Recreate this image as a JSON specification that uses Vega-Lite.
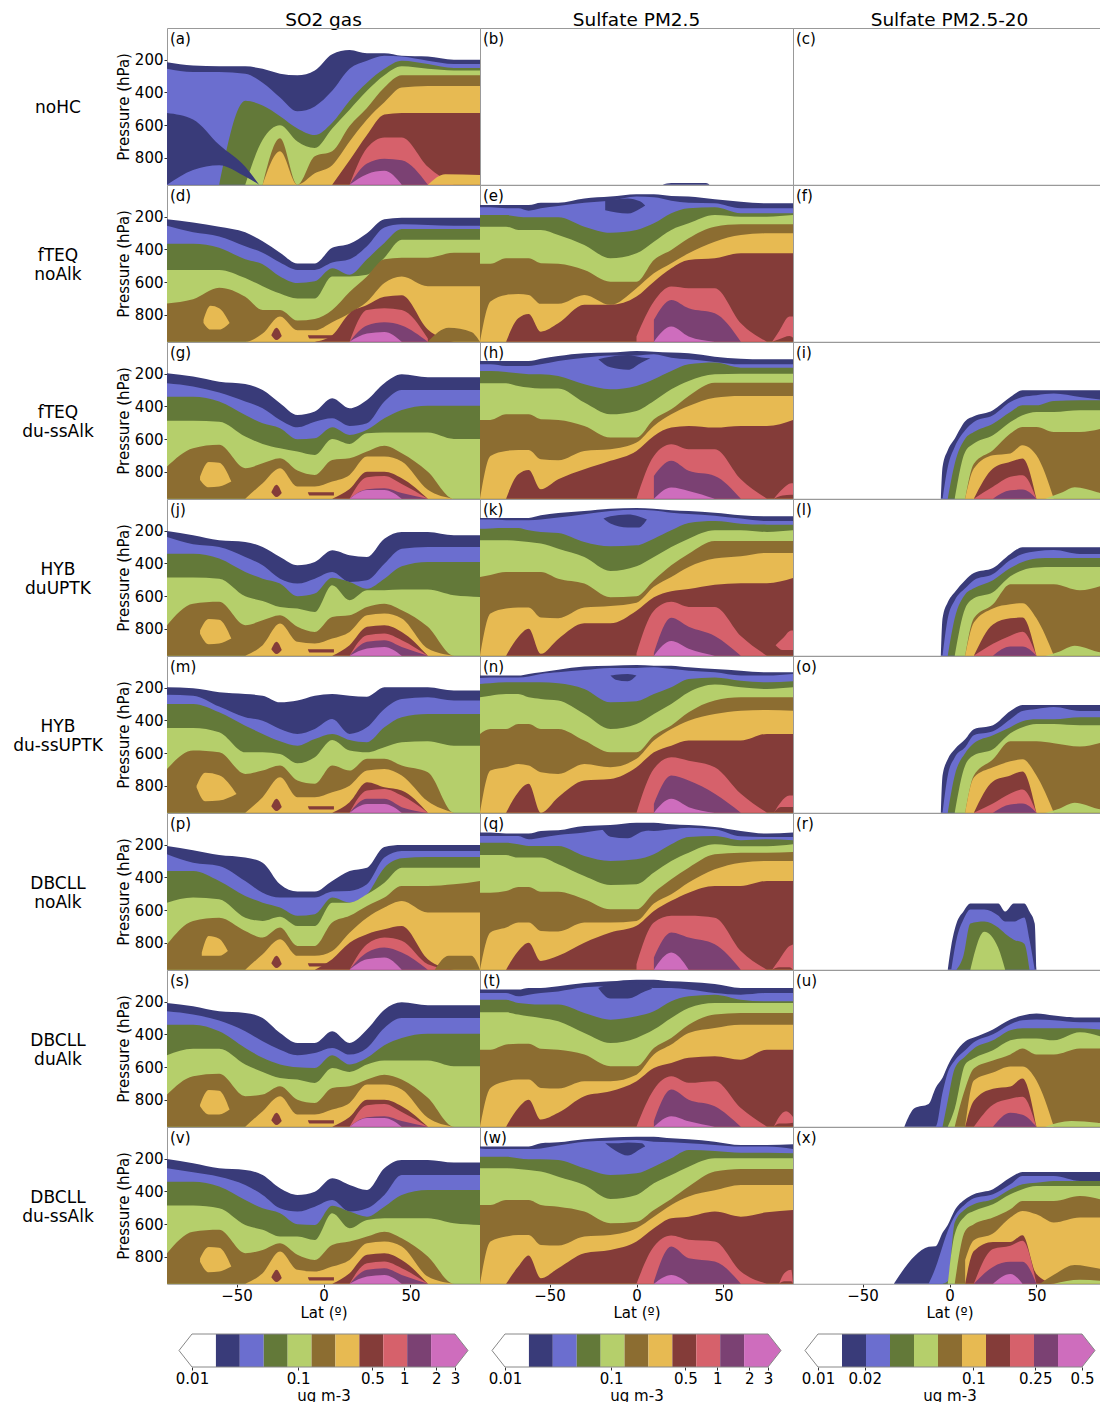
{"$schema":"https://vega.github.io/schema/vega-lite/v6.json","padding":{"left":12,"top":10,"right":0,"bottom":0},"background":"white","spacing":12,"config":{"font":"DejaVu Sans","area":{"interpolate":"monotone"},"axis":{"grid":false,"domain":false,"labelFontSize":15,"titleFontSize":15,"titleFontWeight":"normal","labelColor":"#000","titleColor":"#000","tickColor":"#333","tickSize":3,"labelPadding":1},"view":{"stroke":"#999"}},
"datasets":{"bins1":[{"lo":0.0168,"hi":0.0282,"c":"a"},{"lo":0.0282,"hi":0.0474,"c":"b"},{"lo":0.0474,"hi":0.0796,"c":"c"},{"lo":0.0796,"hi":0.1336,"c":"d"},{"lo":0.1336,"hi":0.2244,"c":"e"},{"lo":0.2244,"hi":0.3769,"c":"f"},{"lo":0.3769,"hi":0.6331,"c":"g"},{"lo":0.6331,"hi":1.063,"c":"h"},{"lo":1.063,"hi":1.786,"c":"i"},{"lo":1.786,"hi":3,"c":"j"}],
"tip1":[{"x":3,"y":0,"y2":1},{"x":3.976,"y":0.5,"y2":0.5}],
"edge1":[{"i":0,"x":0.007545,"y":0.5},{"i":1,"x":0.01,"y":1},{"i":2,"x":3,"y":1},{"i":3,"x":3.976,"y":0.5},{"i":4,"x":3,"y":0},{"i":5,"x":0.01,"y":0},{"i":6,"x":0.007545,"y":0.5}],
"bins3":[{"lo":0.01427,"hi":0.02037,"c":"a"},{"lo":0.02037,"hi":0.02907,"c":"b"},{"lo":0.02907,"hi":0.04148,"c":"c"},{"lo":0.04148,"hi":0.0592,"c":"d"},{"lo":0.0592,"hi":0.08448,"c":"e"},{"lo":0.08448,"hi":0.12056,"c":"f"},{"lo":0.12056,"hi":0.17205,"c":"g"},{"lo":0.17205,"hi":0.24553,"c":"h"},{"lo":0.24553,"hi":0.35039,"c":"i"},{"lo":0.35039,"hi":0.5,"c":"j"}],
"tip3":[{"x":0.5,"y":0,"y2":1},{"x":0.606,"y":0.5,"y2":0.5}],
"edge3":[{"i":0,"x":0.008248,"y":0.5},{"i":1,"x":0.01,"y":1},{"i":2,"x":0.5,"y":1},{"i":3,"x":0.606,"y":0.5},{"i":4,"x":0.5,"y":0},{"i":5,"x":0.01,"y":0},{"i":6,"x":0.008248,"y":0.5}]},
"vconcat":[{"data":{"values":[
{"p":"a","x":-90,"a":215,"b":255},{"p":"a","x":-75,"a":235,"b":275},{"p":"a","x":-60,"a":240,"b":275,"c":965},{"p":"a","x":-45,"a":240,"b":285,"c":450,"d":965},{"p":"a","x":-35,"a":255,"b":340,"c":480,"d":690,"e":965,"f":965},{"p":"a","x":-25,"a":285,"b":430,"c":545,"d":600,"e":680,"f":760},{"p":"a","x":-15,"a":295,"b":515,"c":620,"d":700,"e":965,"f":965},{"p":"a","x":-5,"a":265,"b":485,"c":660,"d":740,"e":790,"f":895},{"p":"a","x":5,"a":165,"b":390,"c":585,"d":620,"e":760,"f":845,"g":965},{"p":"a","x":15,"a":140,"b":255,"c":450,"d":505,"e":605,"f":700,"g":815,"h":965,"i":965,"j":965},{"p":"a","x":25,"a":160,"b":205,"c":340,"d":390,"e":495,"f":565,"g":660,"h":740,"i":835,"j":900},{"p":"a","x":35,"a":160,"b":175,"c":255,"d":295,"e":370,"f":460,"g":535,"h":675,"i":805,"j":880},{"p":"a","x":45,"a":175,"b":180,"c":205,"d":240,"e":295,"f":370,"g":525,"h":675,"i":815,"j":965},{"p":"a","x":60,"a":180,"b":205,"c":225,"d":255,"e":295,"f":360,"g":525,"h":855,"i":965},{"p":"a","x":75,"a":200,"b":225,"c":250,"d":265,"e":295,"f":360,"g":525,"h":965},{"p":"a","x":90,"a":200,"b":225,"c":250,"d":265,"e":295,"f":360,"g":525},
{"p":"a","x":-90,"k":"a","u":525,"v":965},{"p":"a","x":-75,"k":"a","u":565,"v":875},{"p":"a","x":-60,"k":"a","u":720,"v":845},{"p":"a","x":-45,"k":"a","u":855,"v":915},{"p":"a","x":-37,"k":"a","u":965,"v":965},{"p":"a","x":60,"k":"f","u":965,"v":965},{"p":"a","x":70,"k":"f","u":900,"v":965},{"p":"a","x":90,"k":"f","u":905,"v":965},
{"p":"b","x":-90},{"p":"b","x":15,"k":"a","u":965,"v":965},{"p":"b","x":20,"k":"a","u":955,"v":965},{"p":"b","x":40,"k":"a","u":955,"v":965},{"p":"b","x":42,"k":"a","u":965,"v":965},{"p":"c","x":-90},
{"p":"d","x":-90,"a":215,"b":255,"c":365,"d":525,"e":730},{"p":"d","x":-75,"a":235,"b":295,"c":365,"d":525,"e":705,"f":965},{"p":"d","x":-60,"a":260,"b":320,"c":390,"d":525,"e":635,"f":965},{"p":"d","x":-45,"a":295,"b":380,"c":460,"d":575,"e":690,"f":965},{"p":"d","x":-35,"a":350,"b":420,"c":490,"d":625,"e":770,"f":915},{"p":"d","x":-25,"a":420,"b":480,"c":565,"d":670,"e":770,"f":810},{"p":"d","x":-15,"a":485,"b":525,"c":605,"d":700,"e":835,"f":895},{"p":"d","x":-5,"a":485,"b":525,"c":595,"d":700,"e":825,"f":895,"g":965},{"p":"d","x":5,"a":390,"b":480,"c":515,"d":565,"e":770,"f":845,"g":925},{"p":"d","x":15,"a":365,"b":460,"c":555,"d":565,"e":660,"f":790,"g":790,"h":965,"i":965,"j":965},{"p":"d","x":25,"a":300,"b":380,"c":460,"d":555,"e":565,"f":720,"g":740,"h":770,"i":865,"j":915},{"p":"d","x":35,"a":215,"b":265,"c":360,"d":450,"e":460,"f":605,"g":690,"h":760,"i":845,"j":905},{"p":"d","x":45,"a":205,"b":245,"c":275,"d":340,"e":450,"f":565,"g":680,"h":770,"i":865,"j":965},{"p":"d","x":60,"a":205,"b":250,"c":275,"d":340,"e":450,"f":625,"g":890,"h":945,"i":965},{"p":"d","x":75,"a":205,"b":255,"c":275,"d":340,"e":420,"f":625,"g":965},{"p":"d","x":90,"a":205,"b":255,"c":275,"d":340,"e":420,"f":625},
{"p":"d","x":-69,"k":"f","u":830,"v":850},{"p":"d","x":-65,"k":"f","u":745,"v":890},{"p":"d","x":-60,"k":"f","u":760,"v":890},{"p":"d","x":-54,"k":"f","u":850,"v":850},{"p":"d","x":60,"k":"e","u":965,"v":965},{"p":"d","x":72,"k":"e","u":880,"v":965},{"p":"d","x":85,"k":"e","u":905,"v":965},{"p":"d","x":90,"k":"e","u":965,"v":965},{"p":"d","x":-30,"k":"g","u":925,"v":925},{"p":"d","x":-27,"k":"g","u":880,"v":955},{"p":"d","x":-24,"k":"g","u":930,"v":930},{"p":"d","x":-9,"k":"G","u":925,"v":925},{"p":"d","x":-8,"k":"G","u":925,"v":945},{"p":"d","x":6,"k":"G","u":925,"v":945},
{"p":"f","x":-90},
{"p":"g","x":-90,"a":197,"b":258,"c":340,"d":488,"e":768},{"p":"g","x":-75,"a":217,"b":278,"c":340,"d":488,"e":656},{"p":"g","x":-60,"a":248,"b":315,"c":370,"d":493,"e":635},{"p":"g","x":-45,"a":262,"b":370,"c":452,"d":584,"e":778,"f":965},{"p":"g","x":-35,"a":299,"b":411,"c":503,"d":629,"e":748,"f":870},{"p":"g","x":-25,"a":380,"b":482,"c":533,"d":656,"e":717,"f":778},{"p":"g","x":-15,"a":452,"b":527,"c":601,"d":676,"e":792,"f":890},{"p":"g","x":-5,"a":431,"b":493,"c":595,"d":697,"e":819,"f":890},{"p":"g","x":5,"a":350,"b":472,"c":527,"d":599,"e":727,"f":860,"g":965},{"p":"g","x":15,"a":411,"b":519,"c":574,"d":629,"e":717,"f":819,"g":905,"h":965,"i":965,"j":965},{"p":"g","x":25,"a":360,"b":503,"c":543,"d":564,"e":676,"f":707,"g":799,"h":833,"i":907,"j":911},{"p":"g","x":35,"a":258,"b":370,"c":472,"d":560,"e":641,"f":707,"g":799,"h":825,"i":901,"j":911},{"p":"g","x":45,"a":203,"b":299,"c":421,"d":560,"e":686,"f":737,"g":839,"h":874,"i":930,"j":965},{"p":"g","x":60,"a":221,"b":299,"c":395,"d":560,"e":799,"f":910,"g":965,"h":965,"i":965},{"p":"g","x":75,"a":221,"b":299,"c":395,"d":599,"e":965,"f":965},{"p":"g","x":90,"a":221,"b":299,"c":395,"d":599,"e":965},
{"p":"g","x":-71,"k":"f","u":830,"v":850},{"p":"g","x":-66,"k":"f","u":740,"v":895},{"p":"g","x":-60,"k":"f","u":745,"v":890},{"p":"g","x":-53,"k":"f","u":860,"v":860},{"p":"g","x":-30,"k":"g","u":925,"v":925},{"p":"g","x":-27,"k":"g","u":880,"v":955},{"p":"g","x":-24,"k":"g","u":930,"v":930},{"p":"g","x":-9,"k":"G","u":925,"v":925},{"p":"g","x":-8,"k":"G","u":925,"v":945},{"p":"g","x":6,"k":"G","u":925,"v":945},
{"p":"j","x":-90,"a":201,"b":238,"c":340,"d":486,"e":778},{"p":"j","x":-75,"a":227,"b":282,"c":340,"d":486,"e":646},{"p":"j","x":-60,"a":258,"b":299,"c":370,"d":493,"e":635},{"p":"j","x":-45,"a":268,"b":360,"c":452,"d":601,"e":778,"f":965},{"p":"j","x":-35,"a":299,"b":411,"c":493,"d":629,"e":748,"f":900},{"p":"j","x":-25,"a":360,"b":493,"c":523,"d":666,"e":717,"f":768},{"p":"j","x":-15,"a":411,"b":523,"c":601,"d":676,"e":788,"f":880},{"p":"j","x":-5,"a":391,"b":493,"c":584,"d":697,"e":819,"f":890},{"p":"j","x":5,"a":319,"b":452,"c":487,"d":533,"e":727,"f":860,"g":965},{"p":"j","x":15,"a":350,"b":513,"c":513,"d":625,"e":717,"f":819,"g":900,"h":965,"i":965,"j":965},{"p":"j","x":25,"a":360,"b":503,"c":554,"d":564,"e":666,"f":717,"g":788,"h":839,"i":880,"j":921},{"p":"j","x":35,"a":248,"b":401,"c":493,"d":564,"e":646,"f":707,"g":778,"h":829,"i":870,"j":911},{"p":"j","x":45,"a":207,"b":309,"c":417,"d":560,"e":686,"f":737,"g":819,"h":870,"i":911,"j":965},{"p":"j","x":60,"a":207,"b":299,"c":391,"d":560,"e":788,"f":921,"g":965,"h":965,"i":965},{"p":"j","x":75,"a":227,"b":299,"c":391,"d":595,"e":965,"f":965},{"p":"j","x":90,"a":227,"b":299,"c":391,"d":605,"e":965},
{"p":"j","x":-71,"k":"f","u":810,"v":830},{"p":"j","x":-66,"k":"f","u":740,"v":895},{"p":"j","x":-60,"k":"f","u":745,"v":890},{"p":"j","x":-53,"k":"f","u":860,"v":860},{"p":"j","x":-30,"k":"g","u":925,"v":925},{"p":"j","x":-27,"k":"g","u":880,"v":955},{"p":"j","x":-24,"k":"g","u":930,"v":930},{"p":"j","x":-9,"k":"G","u":925,"v":925},{"p":"j","x":-8,"k":"G","u":925,"v":945},{"p":"j","x":6,"k":"G","u":925,"v":945},
{"p":"m","x":-90,"a":197,"b":242,"c":299,"d":446,"e":697},{"p":"m","x":-75,"a":203,"b":248,"c":299,"d":446,"e":584},{"p":"m","x":-60,"a":227,"b":315,"c":350,"d":472,"e":595},{"p":"m","x":-45,"a":238,"b":380,"c":432,"d":595,"e":727,"f":965},{"p":"m","x":-35,"a":248,"b":401,"c":482,"d":595,"e":707,"f":870},{"p":"m","x":-25,"a":289,"b":452,"c":527,"d":605,"e":676,"f":748},{"p":"m","x":-15,"a":278,"b":482,"c":554,"d":662,"e":768,"f":870},{"p":"m","x":-5,"a":248,"b":452,"c":513,"d":625,"e":788,"f":870},{"p":"m","x":5,"a":238,"b":391,"c":482,"d":519,"e":676,"f":840,"g":965},{"p":"m","x":15,"a":248,"b":482,"c":519,"d":584,"e":707,"f":799,"g":900,"h":965,"i":965,"j":965},{"p":"m","x":25,"a":254,"b":442,"c":533,"d":595,"e":635,"f":707,"g":778,"h":829,"i":880,"j":911},{"p":"m","x":35,"a":197,"b":329,"c":442,"d":564,"e":635,"f":697,"g":809,"h":819,"i":880,"j":911},{"p":"m","x":45,"a":197,"b":268,"c":380,"d":533,"e":676,"f":737,"g":829,"h":860,"i":931,"j":965},{"p":"m","x":60,"a":197,"b":258,"c":360,"d":527,"e":717,"f":895,"g":965,"h":965,"i":965},{"p":"m","x":75,"a":217,"b":278,"c":360,"d":554,"e":965,"f":965},{"p":"m","x":90,"a":217,"b":278,"c":360,"d":554,"e":965},
{"p":"m","x":-73,"k":"f","u":800,"v":810},{"p":"m","x":-68,"k":"f","u":720,"v":895},{"p":"m","x":-60,"k":"f","u":735,"v":890},{"p":"m","x":-50,"k":"f","u":850,"v":850},{"p":"m","x":-30,"k":"g","u":925,"v":925},{"p":"m","x":-27,"k":"g","u":880,"v":955},{"p":"m","x":-24,"k":"g","u":930,"v":930},{"p":"m","x":-9,"k":"G","u":925,"v":925},{"p":"m","x":-8,"k":"G","u":925,"v":945},{"p":"m","x":6,"k":"G","u":925,"v":945},
{"p":"p","x":-90,"a":207,"b":258,"c":360,"d":554,"e":809},{"p":"p","x":-75,"a":233,"b":309,"c":360,"d":523,"e":666},{"p":"p","x":-60,"a":262,"b":329,"c":421,"d":533,"e":646},{"p":"p","x":-45,"a":278,"b":421,"c":513,"d":646,"e":727,"f":965},{"p":"p","x":-35,"a":309,"b":493,"c":554,"d":666,"e":768,"f":870},{"p":"p","x":-25,"a":442,"b":523,"c":584,"d":640,"e":707,"f":778},{"p":"p","x":-15,"a":486,"b":523,"c":635,"d":697,"e":819,"f":880},{"p":"p","x":-5,"a":486,"b":523,"c":625,"d":697,"e":819,"f":880,"g":965},{"p":"p","x":5,"a":421,"b":486,"c":523,"d":554,"e":676,"f":850,"g":900},{"p":"p","x":15,"a":360,"b":482,"c":554,"d":554,"e":635,"f":738,"g":800,"h":965,"i":965,"j":965},{"p":"p","x":25,"a":340,"b":442,"c":503,"d":503,"e":574,"f":646,"g":747,"h":809,"i":860,"j":900},{"p":"p","x":35,"a":213,"b":278,"c":340,"d":432,"e":523,"f":584,"g":717,"h":768,"i":829,"j":890},{"p":"p","x":45,"a":201,"b":238,"c":282,"d":340,"e":452,"f":544,"g":697,"h":788,"i":860,"j":965},{"p":"p","x":60,"a":201,"b":238,"c":274,"d":340,"e":452,"f":615,"g":900,"h":931,"i":965},{"p":"p","x":75,"a":201,"b":238,"c":274,"d":340,"e":442,"f":615,"g":965,"h":965},{"p":"p","x":90,"a":201,"b":238,"c":274,"d":340,"e":421,"f":615},
{"p":"p","x":-70,"k":"f","u":860,"v":880},{"p":"p","x":-66,"k":"f","u":758,"v":880},{"p":"p","x":-60,"k":"f","u":775,"v":880},{"p":"p","x":-55,"k":"f","u":850,"v":850},{"p":"p","x":64,"k":"e","u":965,"v":965},{"p":"p","x":72,"k":"e","u":880,"v":965},{"p":"p","x":85,"k":"e","u":880,"v":965},{"p":"p","x":90,"k":"e","u":965,"v":965},{"p":"p","x":-30,"k":"g","u":925,"v":925},{"p":"p","x":-27,"k":"g","u":880,"v":955},{"p":"p","x":-24,"k":"g","u":930,"v":930},{"p":"p","x":-9,"k":"G","u":925,"v":925},{"p":"p","x":-8,"k":"G","u":925,"v":945},{"p":"p","x":6,"k":"G","u":925,"v":945},
{"p":"s","x":-90,"a":207,"b":258,"c":340,"d":527,"e":768},{"p":"s","x":-75,"a":227,"b":278,"c":340,"d":488,"e":656},{"p":"s","x":-60,"a":258,"b":315,"c":380,"d":488,"e":641},{"p":"s","x":-45,"a":268,"b":380,"c":482,"d":584,"e":778,"f":965},{"p":"s","x":-35,"a":299,"b":442,"c":543,"d":629,"e":768,"f":870},{"p":"s","x":-25,"a":391,"b":493,"c":584,"d":666,"e":717,"f":778},{"p":"s","x":-15,"a":452,"b":527,"c":601,"d":676,"e":799,"f":890},{"p":"s","x":-5,"a":452,"b":513,"c":605,"d":697,"e":819,"f":890},{"p":"s","x":5,"a":380,"b":482,"c":527,"d":605,"e":727,"f":860,"g":965},{"p":"s","x":15,"a":452,"b":523,"c":584,"d":629,"e":717,"f":819,"g":905,"h":965,"i":965,"j":965},{"p":"s","x":25,"a":370,"b":482,"c":543,"d":584,"e":676,"f":707,"g":799,"h":833,"i":907,"j":911},{"p":"s","x":35,"a":248,"b":360,"c":466,"d":560,"e":646,"f":707,"g":799,"h":825,"i":901,"j":911},{"p":"s","x":45,"a":203,"b":299,"c":421,"d":560,"e":676,"f":737,"g":839,"h":874,"i":930,"j":965},{"p":"s","x":60,"a":221,"b":299,"c":395,"d":560,"e":788,"f":910,"g":965,"h":965,"i":965},{"p":"s","x":75,"a":221,"b":299,"c":395,"d":595,"e":965,"f":965},{"p":"s","x":90,"a":221,"b":299,"c":395,"d":595,"e":965},
{"p":"s","x":-71,"k":"f","u":830,"v":840},{"p":"s","x":-66,"k":"f","u":740,"v":890},{"p":"s","x":-60,"k":"f","u":745,"v":890},{"p":"s","x":-54,"k":"f","u":860,"v":860},{"p":"s","x":-30,"k":"g","u":925,"v":925},{"p":"s","x":-27,"k":"g","u":880,"v":955},{"p":"s","x":-24,"k":"g","u":930,"v":930},{"p":"s","x":-9,"k":"G","u":925,"v":925},{"p":"s","x":-8,"k":"G","u":925,"v":945},{"p":"s","x":6,"k":"G","u":925,"v":945},
{"p":"v","x":-90,"a":201,"b":258,"c":340,"d":486,"e":778},{"p":"v","x":-75,"a":227,"b":282,"c":340,"d":486,"e":646},{"p":"v","x":-60,"a":258,"b":309,"c":370,"d":503,"e":635},{"p":"v","x":-45,"a":268,"b":360,"c":452,"d":605,"e":778,"f":965},{"p":"v","x":-35,"a":299,"b":421,"c":503,"d":635,"e":758,"f":900},{"p":"v","x":-25,"a":380,"b":503,"c":533,"d":676,"e":717,"f":768},{"p":"v","x":-15,"a":421,"b":523,"c":601,"d":676,"e":788,"f":880},{"p":"v","x":-5,"a":401,"b":493,"c":605,"d":697,"e":819,"f":890},{"p":"v","x":5,"a":319,"b":452,"c":487,"d":533,"e":727,"f":860,"g":965},{"p":"v","x":15,"a":360,"b":523,"c":523,"d":625,"e":707,"f":819,"g":900,"h":965,"i":965,"j":965},{"p":"v","x":25,"a":391,"b":503,"c":554,"d":574,"e":676,"f":717,"g":788,"h":839,"i":880,"j":921},{"p":"v","x":35,"a":258,"b":421,"c":493,"d":564,"e":646,"f":707,"g":778,"h":829,"i":870,"j":911},{"p":"v","x":45,"a":207,"b":299,"c":421,"d":564,"e":686,"f":737,"g":819,"h":870,"i":911,"j":965},{"p":"v","x":60,"a":207,"b":299,"c":391,"d":564,"e":798,"f":921,"g":965,"h":965,"i":965},{"p":"v","x":75,"a":223,"b":299,"c":391,"d":595,"e":965,"f":965},{"p":"v","x":90,"a":223,"b":299,"c":391,"d":605,"e":965},
{"p":"v","x":-71,"k":"f","u":810,"v":830},{"p":"v","x":-66,"k":"f","u":740,"v":895},{"p":"v","x":-60,"k":"f","u":745,"v":890},{"p":"v","x":-53,"k":"f","u":860,"v":860},{"p":"v","x":-30,"k":"g","u":925,"v":925},{"p":"v","x":-27,"k":"g","u":880,"v":955},{"p":"v","x":-24,"k":"g","u":930,"v":930},{"p":"v","x":-9,"k":"G","u":925,"v":925},{"p":"v","x":-8,"k":"G","u":925,"v":945},{"p":"v","x":6,"k":"G","u":925,"v":945},
{"p":"e","x":-90,"a":127,"b":142,"c":189,"d":260,"e":488,"f":965},{"p":"e","x":-84,"a":127,"b":142,"c":189,"d":260,"e":488,"f":719},{"p":"e","x":-75,"a":127,"b":148,"c":189,"d":260,"e":454,"f":678,"g":965},{"p":"e","x":-68,"a":127,"b":148,"c":199,"d":280,"e":454,"f":672,"g":821},{"p":"e","x":-62,"a":127,"b":162,"c":203,"d":280,"e":454,"f":678,"g":795},{"p":"e","x":-55,"a":113,"b":148,"c":203,"d":280,"e":484,"f":733,"g":903},{"p":"e","x":-45,"a":113,"b":134,"c":203,"d":311,"e":488,"f":733,"g":852},{"p":"e","x":-30,"a":87,"b":113,"c":260,"d":372,"e":525,"f":678,"g":739},{"p":"e","x":-15,"a":76,"b":101,"c":297,"d":454,"e":597,"f":739,"g":739},{"p":"e","x":0,"a":62,"b":76,"c":280,"d":423,"e":597,"f":637,"g":688,"h":933},{"p":"e","x":10,"a":62,"b":80,"c":240,"d":352,"e":464,"f":546,"g":597,"h":719,"i":831,"j":965},{"p":"e","x":20,"a":72,"b":101,"c":178,"d":280,"e":403,"f":484,"g":515,"h":627,"i":709,"j":872},{"p":"e","x":30,"a":76,"b":113,"c":148,"d":240,"e":331,"f":423,"g":464,"h":637,"i":760,"j":933},{"p":"e","x":45,"a":93,"b":117,"c":142,"d":189,"e":260,"f":352,"g":454,"h":637,"i":790,"j":965},{"p":"e","x":60,"a":107,"b":148,"c":178,"d":199,"e":246,"f":311,"g":423,"h":852,"i":965},{"p":"e","x":75,"a":117,"b":148,"c":178,"d":199,"e":246,"f":301,"g":423,"h":965},{"p":"e","x":90,"a":117,"b":148,"c":178,"d":189,"e":246,"f":301,"g":423},
{"p":"e","x":-18,"k":"a","u":100,"v":160},{"p":"e","x":-5,"k":"a","u":87,"v":180},{"p":"e","x":2,"k":"a","u":105,"v":150},{"p":"e","x":5,"k":"a","u":130,"v":130},{"p":"e","x":78,"k":"h","u":965,"v":965},{"p":"e","x":82,"k":"h","u":900,"v":950},{"p":"e","x":88,"k":"h","u":810,"v":930},{"p":"e","x":90,"k":"h","u":810,"v":940},
{"p":"h","x":-90,"a":121,"b":142,"c":183,"d":258,"e":482,"f":965},{"p":"h","x":-84,"a":121,"b":142,"c":183,"d":258,"e":482,"f":703},{"p":"h","x":-75,"a":121,"b":152,"c":189,"d":258,"e":448,"f":672,"g":965},{"p":"h","x":-68,"a":121,"b":152,"c":197,"d":274,"e":448,"f":666,"g":815},{"p":"h","x":-62,"a":121,"b":152,"c":203,"d":284,"e":448,"f":666,"g":789},{"p":"h","x":-55,"a":107,"b":142,"c":203,"d":290,"e":478,"f":723,"g":907},{"p":"h","x":-45,"a":91,"b":121,"c":213,"d":290,"e":482,"f":729,"g":846},{"p":"h","x":-30,"a":74,"b":101,"c":264,"d":376,"e":519,"f":672,"g":784},{"p":"h","x":-15,"a":70,"b":87,"c":295,"d":448,"e":590,"f":662,"g":733},{"p":"h","x":0,"a":60,"b":87,"c":274,"d":427,"e":590,"f":621,"g":672,"h":965},{"p":"h","x":10,"a":64,"b":80,"c":233,"d":366,"e":478,"f":519,"g":580,"h":703,"i":825,"j":965},{"p":"h","x":20,"a":70,"b":101,"c":183,"d":295,"e":417,"f":448,"g":529,"h":631,"i":733,"j":896},{"p":"h","x":30,"a":74,"b":111,"c":142,"d":244,"e":335,"f":397,"g":519,"h":662,"i":794,"j":917},{"p":"h","x":45,"a":95,"b":127,"c":131,"d":203,"e":254,"f":346,"g":529,"h":662,"i":825,"j":965},{"p":"h","x":60,"a":107,"b":142,"c":162,"d":199,"e":254,"f":335,"g":519,"h":846,"i":965},{"p":"h","x":75,"a":111,"b":142,"c":162,"d":199,"e":254,"f":335,"g":519,"h":965},{"p":"h","x":90,"a":111,"b":142,"c":162,"d":199,"e":254,"f":335,"g":482},
{"p":"h","x":-22,"k":"a","u":110,"v":110},{"p":"h","x":-15,"k":"a","u":95,"v":160},{"p":"h","x":-5,"k":"a","u":85,"v":175},{"p":"h","x":3,"k":"a","u":100,"v":130},{"p":"h","x":8,"k":"a","u":105,"v":105},{"p":"h","x":79,"k":"h","u":965,"v":965},{"p":"h","x":84,"k":"h","u":905,"v":945},{"p":"h","x":89,"k":"h","u":870,"v":940},{"p":"h","x":90,"k":"h","u":870,"v":940},
{"p":"k","x":-90,"a":121,"b":131,"c":187,"d":258,"e":482,"f":965},{"p":"k","x":-84,"a":121,"b":131,"c":185,"d":258,"e":470,"f":707},{"p":"k","x":-75,"a":121,"b":135,"c":183,"d":258,"e":452,"f":676,"g":965},{"p":"k","x":-68,"a":121,"b":135,"c":183,"d":262,"e":452,"f":670,"g":850},{"p":"k","x":-62,"a":121,"b":135,"c":197,"d":268,"e":452,"f":670,"g":799},{"p":"k","x":-55,"a":105,"b":131,"c":207,"d":278,"e":452,"f":731,"g":953},{"p":"k","x":-45,"a":91,"b":119,"c":213,"d":309,"e":493,"f":735,"g":862},{"p":"k","x":-30,"a":79,"b":99,"c":268,"d":360,"e":523,"f":670,"g":766},{"p":"k","x":-15,"a":64,"b":79,"c":295,"d":446,"e":607,"f":660,"g":766},{"p":"k","x":0,"a":60,"b":71,"c":289,"d":417,"e":601,"f":640,"g":689,"h":950},{"p":"k","x":10,"a":64,"b":75,"c":248,"d":360,"e":503,"f":543,"g":607,"h":689,"i":950,"j":965},{"p":"k","x":20,"a":74,"b":89,"c":197,"d":299,"e":411,"f":482,"g":570,"h":635,"i":733,"j":875},{"p":"k","x":30,"a":79,"b":97,"c":152,"d":248,"e":340,"f":421,"g":556,"h":666,"i":788,"j":922},{"p":"k","x":45,"a":89,"b":107,"c":140,"d":197,"e":262,"f":370,"g":530,"h":666,"i":844,"j":965},{"p":"k","x":60,"a":105,"b":125,"c":156,"d":197,"e":262,"f":356,"g":521,"h":844,"i":965},{"p":"k","x":75,"a":111,"b":140,"c":162,"d":207,"e":262,"f":335,"g":521,"h":965},{"p":"k","x":90,"a":111,"b":140,"c":162,"d":197,"e":262,"f":335,"g":489},
{"p":"k","x":-19,"k":"a","u":125,"v":125},{"p":"k","x":-15,"k":"a","u":110,"v":155},{"p":"k","x":-5,"k":"a","u":100,"v":180},{"p":"k","x":1,"k":"a","u":110,"v":180},{"p":"k","x":6,"k":"a","u":130,"v":130},{"p":"k","x":80,"k":"h","u":900,"v":900},{"p":"k","x":84,"k":"h","u":860,"v":930},{"p":"k","x":89,"k":"h","u":810,"v":930},{"p":"k","x":90,"k":"h","u":810,"v":930},
{"p":"n","x":-90,"a":125,"b":140,"c":176,"d":258,"e":482,"f":965},{"p":"n","x":-84,"a":125,"b":136,"c":172,"d":248,"e":452,"f":707},{"p":"n","x":-75,"a":125,"b":136,"c":166,"d":238,"e":452,"f":686,"g":965},{"p":"n","x":-68,"a":125,"b":136,"c":166,"d":238,"e":421,"f":666,"g":839},{"p":"n","x":-62,"a":115,"b":130,"c":166,"d":258,"e":421,"f":676,"g":788},{"p":"n","x":-55,"a":105,"b":115,"c":166,"d":268,"e":452,"f":717,"g":965},{"p":"n","x":-45,"a":89,"b":105,"c":172,"d":278,"e":452,"f":727,"g":870},{"p":"n","x":-30,"a":70,"b":91,"c":207,"d":360,"e":523,"f":666,"g":768},{"p":"n","x":-15,"a":64,"b":78,"c":289,"d":452,"e":595,"f":686,"g":758},{"p":"n","x":0,"a":60,"b":78,"c":282,"d":421,"e":595,"f":635,"g":686,"h":965},{"p":"n","x":10,"a":64,"b":74,"c":238,"d":360,"e":493,"f":523,"g":595,"h":696,"i":911,"j":965},{"p":"n","x":20,"a":64,"b":85,"c":197,"d":299,"e":431,"f":452,"g":554,"h":625,"i":737,"j":880},{"p":"n","x":30,"a":74,"b":95,"c":146,"d":227,"e":350,"f":401,"g":523,"h":646,"i":768,"j":931},{"p":"n","x":45,"a":85,"b":105,"c":136,"d":180,"e":278,"f":360,"g":523,"h":686,"i":849,"j":965},{"p":"n","x":60,"a":95,"b":125,"c":156,"d":197,"e":258,"f":340,"g":523,"h":849,"i":965},{"p":"n","x":75,"a":105,"b":125,"c":166,"d":207,"e":258,"f":335,"g":482,"h":965},{"p":"n","x":90,"a":105,"b":115,"c":160,"d":197,"e":258,"f":340,"g":482},
{"p":"n","x":-15,"k":"a","u":125,"v":125},{"p":"n","x":-12,"k":"a","u":120,"v":150},{"p":"n","x":-5,"k":"a","u":115,"v":160},{"p":"n","x":0,"k":"a","u":125,"v":125},{"p":"n","x":79,"k":"h","u":965,"v":965},{"p":"n","x":83,"k":"h","u":900,"v":930},{"p":"n","x":88,"k":"h","u":860,"v":930},{"p":"n","x":90,"k":"h","u":860,"v":930},
{"p":"q","x":-90,"a":125,"b":146,"c":187,"d":262,"e":493,"f":965},{"p":"q","x":-84,"a":125,"b":146,"c":187,"d":262,"e":493,"f":737},{"p":"q","x":-75,"a":131,"b":146,"c":187,"d":262,"e":483,"f":707,"g":965},{"p":"q","x":-68,"a":131,"b":146,"c":197,"d":278,"e":458,"f":676,"g":850},{"p":"q","x":-62,"a":131,"b":166,"c":207,"d":278,"e":458,"f":676,"g":799},{"p":"q","x":-55,"a":115,"b":156,"c":207,"d":278,"e":487,"f":727,"g":911},{"p":"q","x":-45,"a":111,"b":140,"c":207,"d":319,"e":488,"f":731,"g":880},{"p":"q","x":-30,"a":85,"b":125,"c":268,"d":391,"e":533,"f":676,"g":799},{"p":"q","x":-15,"a":79,"b":105,"c":299,"d":446,"e":595,"f":676,"g":737},{"p":"q","x":0,"a":64,"b":105,"c":289,"d":442,"e":595,"f":666,"g":696,"h":931},{"p":"q","x":10,"a":64,"b":115,"c":258,"d":370,"e":493,"f":560,"g":605,"h":676,"i":890,"j":965},{"p":"q","x":20,"a":74,"b":105,"c":197,"d":299,"e":411,"f":503,"g":543,"h":635,"i":737,"j":860},{"p":"q","x":30,"a":79,"b":95,"c":152,"d":248,"e":340,"f":431,"g":493,"h":635,"i":768,"j":965},{"p":"q","x":45,"a":91,"b":105,"c":146,"d":197,"e":258,"f":350,"g":452,"h":646,"i":809},{"p":"q","x":60,"a":115,"b":148,"c":172,"d":209,"e":248,"f":309,"g":452,"h":850,"i":965},{"p":"q","x":75,"a":131,"b":152,"c":166,"d":209,"e":248,"f":299,"g":421,"h":965},{"p":"q","x":90,"a":125,"b":152,"c":172,"d":197,"e":244,"f":299,"g":421},
{"p":"q","x":-20,"k":"a","u":100,"v":100},{"p":"q","x":-15,"k":"a","u":95,"v":150},{"p":"q","x":-5,"k":"a","u":85,"v":160},{"p":"q","x":3,"k":"a","u":90,"v":120},{"p":"q","x":7,"k":"a","u":110,"v":110},{"p":"q","x":78,"k":"h","u":965,"v":965},{"p":"q","x":82,"k":"h","u":905,"v":950},{"p":"q","x":88,"k":"h","u":820,"v":950},{"p":"q","x":90,"k":"h","u":810,"v":965},
{"p":"t","x":-90,"a":125,"b":146,"c":187,"d":264,"e":493,"f":965},{"p":"t","x":-84,"a":125,"b":146,"c":187,"d":264,"e":493,"f":727},{"p":"t","x":-75,"a":125,"b":146,"c":187,"d":264,"e":462,"f":686,"g":965},{"p":"t","x":-68,"a":125,"b":166,"c":207,"d":278,"e":456,"f":676,"g":850},{"p":"t","x":-62,"a":115,"b":156,"c":213,"d":289,"e":456,"f":676,"g":799},{"p":"t","x":-55,"a":115,"b":146,"c":217,"d":299,"e":487,"f":727,"g":921},{"p":"t","x":-45,"a":105,"b":136,"c":217,"d":319,"e":493,"f":731,"g":880},{"p":"t","x":-30,"a":85,"b":111,"c":268,"d":391,"e":523,"f":686,"g":778},{"p":"t","x":-15,"a":74,"b":105,"c":309,"d":452,"e":595,"f":686,"g":748},{"p":"t","x":0,"a":64,"b":105,"c":289,"d":421,"e":595,"f":646,"g":686,"h":965},{"p":"t","x":10,"a":64,"b":115,"c":258,"d":370,"e":482,"f":523,"g":605,"h":737,"i":931,"j":965},{"p":"t","x":20,"a":74,"b":115,"c":197,"d":299,"e":421,"f":462,"g":574,"h":656,"i":737,"j":900},{"p":"t","x":30,"a":78,"b":125,"c":166,"d":238,"e":340,"f":391,"g":543,"h":696,"i":799,"j":931},{"p":"t","x":45,"a":91,"b":146,"c":156,"d":207,"e":278,"f":360,"g":533,"h":686,"i":839,"j":965},{"p":"t","x":60,"a":115,"b":156,"c":187,"d":207,"e":268,"f":340,"g":554,"h":850,"i":965},{"p":"t","x":75,"a":115,"b":146,"c":197,"d":207,"e":268,"f":340,"g":493,"h":965},{"p":"t","x":90,"a":115,"b":146,"c":197,"d":207,"e":268,"f":340,"g":493},
{"p":"t","x":-22,"k":"a","u":115,"v":115},{"p":"t","x":-15,"k":"a","u":90,"v":180},{"p":"t","x":-5,"k":"a","u":80,"v":180},{"p":"t","x":5,"k":"a","u":95,"v":135},{"p":"t","x":9,"k":"a","u":120,"v":120},{"p":"t","x":79,"k":"h","u":965,"v":965},{"p":"t","x":82,"k":"h","u":905,"v":945},{"p":"t","x":86,"k":"h","u":870,"v":945},{"p":"t","x":90,"k":"h","u":905,"v":940},
{"p":"w","x":-90,"a":125,"b":136,"c":187,"d":258,"e":482,"f":965},{"p":"w","x":-84,"a":125,"b":140,"c":187,"d":258,"e":482,"f":707},{"p":"w","x":-75,"a":125,"b":140,"c":187,"d":258,"e":452,"f":676,"g":965},{"p":"w","x":-68,"a":125,"b":140,"c":197,"d":262,"e":452,"f":666,"g":860},{"p":"w","x":-62,"a":125,"b":140,"c":203,"d":268,"e":452,"f":666,"g":792},{"p":"w","x":-55,"a":105,"b":136,"c":203,"d":278,"e":482,"f":727,"g":931},{"p":"w","x":-45,"a":99,"b":119,"c":207,"d":309,"e":493,"f":731,"g":870},{"p":"w","x":-30,"a":80,"b":95,"c":258,"d":360,"e":523,"f":676,"g":778},{"p":"w","x":-15,"a":70,"b":89,"c":299,"d":446,"e":595,"f":666,"g":758},{"p":"w","x":0,"a":64,"b":85,"c":289,"d":421,"e":585,"f":625,"g":706,"h":965},{"p":"w","x":10,"a":64,"b":95,"c":248,"d":350,"e":513,"f":554,"g":625,"h":737,"i":951,"j":965},{"p":"w","x":20,"a":74,"b":99,"c":197,"d":299,"e":446,"f":482,"g":564,"h":670,"i":737,"j":911},{"p":"w","x":30,"a":80,"b":105,"c":146,"d":248,"e":370,"f":431,"g":554,"h":696,"i":809,"j":965},{"p":"w","x":45,"a":95,"b":115,"c":152,"d":197,"e":278,"f":393,"g":523,"h":706,"i":829},{"p":"w","x":60,"a":115,"b":125,"c":162,"d":197,"e":262,"f":360,"g":554,"h":890,"i":965},{"p":"w","x":75,"a":115,"b":125,"c":162,"d":197,"e":262,"f":360,"g":527,"h":965},{"p":"w","x":90,"a":111,"b":140,"c":166,"d":197,"e":262,"f":360,"g":513},
{"p":"w","x":-18,"k":"a","u":105,"v":105},{"p":"w","x":-12,"k":"a","u":105,"v":150},{"p":"w","x":-5,"k":"a","u":100,"v":180},{"p":"w","x":3,"k":"a","u":105,"v":135},{"p":"w","x":5,"k":"a","u":125,"v":125},{"p":"w","x":82,"k":"h","u":965,"v":965},{"p":"w","x":85,"k":"h","u":900,"v":950},{"p":"w","x":89,"k":"h","u":880,"v":950},{"p":"w","x":90,"k":"h","u":965,"v":965},
{"p":"i","x":-90},{"p":"i","x":-5,"a":965},{"p":"i","x":-4,"a":770,"b":965},{"p":"i","x":-1,"a":668,"b":770,"c":965},{"p":"i","x":3,"a":597,"b":648,"c":750,"d":965},{"p":"i","x":9,"a":490,"b":546,"c":597,"d":678,"e":965,"f":965},{"p":"i","x":14,"a":460,"b":495,"c":556,"d":627,"e":750,"f":780,"g":965,"h":965},{"p":"i","x":25,"a":423,"b":454,"c":505,"d":576,"e":668,"f":699,"g":780,"h":892,"i":965},{"p":"i","x":35,"a":342,"b":372,"c":433,"d":495,"e":566,"f":688,"g":739,"h":831,"i":913},{"p":"i","x":42,"a":301,"b":342,"c":393,"d":454,"e":525,"f":637,"g":719,"h":821,"i":909},{"p":"i","x":50,"a":301,"b":331,"c":393,"d":433,"e":525,"f":699,"g":965,"h":965,"i":965},{"p":"i","x":60,"a":301,"b":321,"c":366,"d":433,"e":556,"f":965},{"p":"i","x":75,"a":301,"b":342,"c":362,"d":423,"e":556},{"p":"i","x":90,"a":301,"b":362,"c":362,"d":423,"e":529},
{"p":"i","x":55,"k":"d","u":965,"v":965},{"p":"i","x":65,"k":"d","u":925,"v":965},{"p":"i","x":72,"k":"d","u":895,"v":965},{"p":"i","x":85,"k":"d","u":925,"v":965},{"p":"i","x":90,"k":"d","u":940,"v":965},
{"p":"l","x":-90},{"p":"l","x":-5,"a":965},{"p":"l","x":-4,"a":736,"b":965},{"p":"l","x":-1,"a":638,"b":736,"c":965},{"p":"l","x":3,"a":576,"b":626,"c":736,"d":965},{"p":"l","x":9,"a":502,"b":552,"c":590,"d":675,"e":965,"f":965},{"p":"l","x":14,"a":458,"b":502,"c":552,"d":613,"e":736,"f":761,"g":965,"h":965},{"p":"l","x":25,"a":428,"b":465,"c":502,"d":576,"e":650,"f":675,"g":773,"h":892,"i":965},{"p":"l","x":35,"a":342,"b":379,"c":428,"d":478,"e":527,"f":650,"g":736,"h":843,"i":909},{"p":"l","x":42,"a":300,"b":342,"c":391,"d":441,"e":527,"f":643,"g":731,"h":818,"i":909},{"p":"l","x":50,"a":300,"b":325,"c":370,"d":425,"e":527,"f":736,"g":965,"h":965,"i":965},{"p":"l","x":60,"a":300,"b":318,"c":367,"d":422,"e":527,"f":965},{"p":"l","x":75,"a":300,"b":342,"c":367,"d":422,"e":564},{"p":"l","x":90,"a":300,"b":342,"c":367,"d":422,"e":527},
{"p":"l","x":55,"k":"d","u":965,"v":965},{"p":"l","x":63,"k":"d","u":940,"v":965},{"p":"l","x":72,"k":"d","u":904,"v":965},{"p":"l","x":85,"k":"d","u":940,"v":965},{"p":"l","x":90,"k":"d","u":950,"v":965},
{"p":"o","x":-90},{"p":"o","x":-5,"a":965},{"p":"o","x":-4,"a":737,"b":965},{"p":"o","x":-1,"a":638,"b":737,"c":965},{"p":"o","x":3,"a":576,"b":626,"c":737,"d":965},{"p":"o","x":9,"a":515,"b":564,"c":601,"d":675,"e":965,"f":965},{"p":"o","x":14,"a":453,"b":490,"c":540,"d":613,"e":737,"f":749,"g":965,"h":965},{"p":"o","x":25,"a":429,"b":466,"c":490,"d":576,"e":638,"f":687,"g":773,"h":909,"i":965},{"p":"o","x":35,"a":342,"b":392,"c":441,"d":478,"e":527,"f":650,"g":737,"h":847,"i":914},{"p":"o","x":42,"a":305,"b":342,"c":404,"d":441,"e":527,"f":638,"g":712,"h":823,"i":909},{"p":"o","x":50,"a":305,"b":330,"c":392,"d":421,"e":527,"f":737,"g":965,"h":965,"i":965},{"p":"o","x":60,"a":305,"b":318,"c":392,"d":421,"e":539,"f":965},{"p":"o","x":75,"a":305,"b":342,"c":380,"d":429,"e":559},{"p":"o","x":90,"a":305,"b":342,"c":380,"d":429,"e":527},
{"p":"o","x":55,"k":"d","u":965,"v":965},{"p":"o","x":63,"k":"d","u":940,"v":965},{"p":"o","x":72,"k":"d","u":904,"v":965},{"p":"o","x":85,"k":"d","u":940,"v":965},{"p":"o","x":90,"k":"d","u":950,"v":965},
{"p":"r","x":-90},{"p":"r","x":-1,"a":965},{"p":"r","x":1,"a":818,"b":965},{"p":"r","x":4,"a":682,"b":781,"c":965},{"p":"r","x":8,"a":608,"b":658,"c":879},{"p":"r","x":12,"a":559,"b":596,"c":682,"d":965},{"p":"r","x":20,"a":559,"b":596,"c":670,"d":732},{"p":"r","x":28,"a":559,"b":633,"c":707,"d":830},{"p":"r","x":32,"a":608,"b":670,"c":744,"d":965},{"p":"r","x":37,"a":559,"b":670,"c":781},{"p":"r","x":43,"a":559,"b":645,"c":805},{"p":"r","x":46,"a":608,"b":781,"c":965},{"p":"r","x":49,"a":682,"b":965},{"p":"r","x":50,"a":965},
{"p":"u","x":-90},{"p":"u","x":-26,"a":965},{"p":"u","x":-20,"a":850},{"p":"u","x":-12,"a":825,"b":965},{"p":"u","x":-8,"a":727,"b":965},{"p":"u","x":-4,"a":665,"b":756,"c":965},{"p":"u","x":-1,"a":591,"b":633,"c":805,"d":965},{"p":"u","x":3,"a":517,"b":559,"c":608,"d":854,"e":965},{"p":"u","x":9,"a":443,"b":497,"c":534,"d":584,"e":732,"f":965,"g":965},{"p":"u","x":14,"a":419,"b":448,"c":485,"d":546,"e":608,"f":682,"g":805,"h":965},{"p":"u","x":25,"a":369,"b":399,"c":436,"d":497,"e":559,"f":633,"g":732,"h":830,"i":965},{"p":"u","x":35,"a":308,"b":337,"c":374,"d":436,"e":522,"f":596,"g":719,"h":793,"i":879},{"p":"u","x":42,"a":283,"b":313,"c":362,"d":424,"e":485,"f":596,"g":670,"h":781,"i":891},{"p":"u","x":50,"a":271,"b":308,"c":362,"d":424,"e":522,"f":682,"g":965,"h":965,"i":965},{"p":"u","x":60,"a":283,"b":313,"c":362,"d":436,"e":522,"f":965},{"p":"u","x":75,"a":296,"b":325,"c":362,"d":387,"e":485},{"p":"u","x":90,"a":296,"b":325,"c":374,"d":424,"e":485},
{"p":"u","x":55,"k":"d","u":965,"v":965},{"p":"u","x":70,"k":"d","u":930,"v":965},{"p":"u","x":85,"k":"d","u":940,"v":965},{"p":"u","x":90,"k":"d","u":950,"v":965},
{"p":"x","x":-90},{"p":"x","x":-32,"a":965},{"p":"x","x":-20,"a":795},{"p":"x","x":-12,"a":739,"b":965},{"p":"x","x":-8,"a":735,"b":866},{"p":"x","x":-4,"a":652,"b":735,"c":965},{"p":"x","x":-1,"a":605,"b":642,"c":950,"d":965},{"p":"x","x":3,"a":515,"b":550,"c":590,"d":662,"e":965},{"p":"x","x":9,"a":448,"b":478,"c":509,"d":550,"e":642,"f":820,"g":965},{"p":"x","x":14,"a":417,"b":442,"c":478,"d":519,"e":601,"f":699,"g":764,"h":965,"i":965},{"p":"x","x":25,"a":386,"b":417,"c":448,"d":478,"e":560,"f":658,"g":709,"h":752,"i":862,"j":965},{"p":"x","x":35,"a":315,"b":356,"c":386,"d":417,"e":509,"f":560,"g":709,"h":733,"i":831,"j":905},{"p":"x","x":42,"a":280,"b":305,"c":356,"d":386,"e":458,"f":519,"g":668,"h":702,"i":831,"j":965},{"p":"x","x":50,"a":280,"b":305,"c":346,"d":366,"e":458,"f":540,"g":905,"h":965,"i":965},{"p":"x","x":60,"a":280,"b":305,"c":335,"d":366,"e":458,"f":590,"g":965},{"p":"x","x":75,"a":280,"b":335,"c":335,"d":366,"e":427,"f":560},{"p":"x","x":90,"a":280,"b":335,"c":335,"d":366,"e":458,"f":560},
{"p":"x","x":52,"k":"e","u":965,"v":965},{"p":"x","x":60,"k":"e","u":910,"v":965},{"p":"x","x":72,"k":"e","u":850,"v":965},{"p":"x","x":85,"k":"e","u":870,"v":965},{"p":"x","x":90,"k":"e","u":880,"v":965},{"p":"x","x":60,"k":"d","u":965,"v":965},{"p":"x","x":75,"k":"d","u":940,"v":965},{"p":"x","x":90,"k":"d","u":950,"v":965}
]},
"transform":[{"lookup":"p","from":{"key":"p","fields":["r","t","n","l0","l1","l2"],"data":{"values":[{"p":"a","r":1,"t":"SO2 gas","n":"(a)","l0":"noHC"},{"p":"b","r":1,"t":"Sulfate PM2.5","n":"(b)"},{"p":"c","r":1,"t":"Sulfate PM2.5-20","n":"(c)"},{"p":"d","r":2,"t":"SO2 gas","n":"(d)","l1":"fTEQ","l2":"noAlk"},{"p":"e","r":2,"t":"Sulfate PM2.5","n":"(e)"},{"p":"f","r":2,"t":"Sulfate PM2.5-20","n":"(f)"},{"p":"g","r":3,"t":"SO2 gas","n":"(g)","l1":"fTEQ","l2":"du-ssAlk"},{"p":"h","r":3,"t":"Sulfate PM2.5","n":"(h)"},{"p":"i","r":3,"t":"Sulfate PM2.5-20","n":"(i)"},{"p":"j","r":4,"t":"SO2 gas","n":"(j)","l1":"HYB","l2":"duUPTK"},{"p":"k","r":4,"t":"Sulfate PM2.5","n":"(k)"},{"p":"l","r":4,"t":"Sulfate PM2.5-20","n":"(l)"},{"p":"m","r":5,"t":"SO2 gas","n":"(m)","l1":"HYB","l2":"du-ssUPTK"},{"p":"n","r":5,"t":"Sulfate PM2.5","n":"(n)"},{"p":"o","r":5,"t":"Sulfate PM2.5-20","n":"(o)"},{"p":"p","r":6,"t":"SO2 gas","n":"(p)","l1":"DBCLL","l2":"noAlk"},{"p":"q","r":6,"t":"Sulfate PM2.5","n":"(q)"},{"p":"r","r":6,"t":"Sulfate PM2.5-20","n":"(r)"},{"p":"s","r":7,"t":"SO2 gas","n":"(s)","l1":"DBCLL","l2":"duAlk"},{"p":"t","r":7,"t":"Sulfate PM2.5","n":"(t)"},{"p":"u","r":7,"t":"Sulfate PM2.5-20","n":"(u)"},{"p":"v","r":8,"t":"SO2 gas","n":"(v)","l1":"DBCLL","l2":"du-ssAlk"},{"p":"w","r":8,"t":"Sulfate PM2.5","n":"(w)"},{"p":"x","r":8,"t":"Sulfate PM2.5-20","n":"(x)"}]}}}],
"facet":{"row":{"field":"r","type":"ordinal","header":{"title":null,"labels":false}},"column":{"field":"t","type":"nominal","sort":["SO2 gas","Sulfate PM2.5","Sulfate PM2.5-20"],"header":{"title":null,"labelFontSize":18.5,"labelColor":"#000","labelPadding":-1}}},
"spacing":{"row":0,"column":0},"bounds":"flush",
"spec":{"width":313,"height":156.75,"encoding":{"x":{"field":"x","type":"quantitative","scale":{"domain":[-90,90],"nice":false},"axis":{"values":[-50,0,50],"title":"Lat (º)","titlePadding":2}}},
"layer":[{"transform":[{"filter":"!isValid(datum.k)"}],"encoding":{"y2":{"datum":965}},"layer":[
{"mark":{"type":"area","color":"#393b79"},"encoding":{"y":{"field":"a","type":"quantitative","scale":{"domain":[965,5],"nice":false},"axis":{"values":[200,400,600,800],"title":"Pressure (hPa)","titlePadding":3}}}},
{"mark":{"type":"area","color":"#6b6ecf"},"encoding":{"y":{"field":"b","type":"quantitative"}}},
{"mark":{"type":"area","color":"#637939"},"encoding":{"y":{"field":"c","type":"quantitative"}}},
{"mark":{"type":"area","color":"#b5cf6b"},"encoding":{"y":{"field":"d","type":"quantitative"}}},
{"mark":{"type":"area","color":"#8c6d31"},"encoding":{"y":{"field":"e","type":"quantitative"}}},
{"mark":{"type":"area","color":"#e7ba52"},"encoding":{"y":{"field":"f","type":"quantitative"}}},
{"mark":{"type":"area","color":"#843c39"},"encoding":{"y":{"field":"g","type":"quantitative"}}},
{"mark":{"type":"area","color":"#d6616b"},"encoding":{"y":{"field":"h","type":"quantitative"}}},
{"mark":{"type":"area","color":"#7b4173"},"encoding":{"y":{"field":"i","type":"quantitative"}}},
{"mark":{"type":"area","color":"#ce6dbd"},"encoding":{"y":{"field":"j","type":"quantitative"}}}]},
{"transform":[{"filter":"isValid(datum.k)"}],"mark":{"type":"area"},"encoding":{"y":{"field":"u","type":"quantitative"},"y2":{"field":"v"},"color":{"field":"k","type":"nominal","legend":null,"scale":{"domain":["a","b","c","d","e","f","g","G","h","i","j"],"range":["#393b79","#6b6ecf","#637939","#b5cf6b","#8c6d31","#e7ba52","#843c39","#843c39","#d6616b","#7b4173","#ce6dbd"]}}}},
{"transform":[{"filter":"datum.x==-90 && !isValid(datum.k)"}],"mark":{"type":"text","align":"left","baseline":"middle","fontSize":15,"color":"#000"},"encoding":{"x":{"datum":-88.3,"type":"quantitative"},"y":{"datum":70,"type":"quantitative"},"text":{"field":"n"}}},
{"transform":[{"filter":"datum.x==-90 && !isValid(datum.k) && isValid(datum.l0)"}],"mark":{"type":"text","align":"center","baseline":"middle","fontSize":17,"color":"#000"},"encoding":{"x":{"datum":-152.7,"type":"quantitative"},"y":{"datum":494,"type":"quantitative"},"text":{"field":"l0"}}},
{"transform":[{"filter":"datum.x==-90 && !isValid(datum.k) && isValid(datum.l1)"}],"mark":{"type":"text","align":"center","baseline":"middle","fontSize":17,"color":"#000"},"encoding":{"x":{"datum":-152.7,"type":"quantitative"},"y":{"datum":439,"type":"quantitative"},"text":{"field":"l1"}}},
{"transform":[{"filter":"datum.x==-90 && !isValid(datum.k) && isValid(datum.l2)"}],"mark":{"type":"text","align":"center","baseline":"middle","fontSize":17,"color":"#000"},"encoding":{"x":{"datum":-152.7,"type":"quantitative"},"y":{"datum":555,"type":"quantitative"},"text":{"field":"l2"}}}]}},
{"hconcat":[
{"width":313,"height":33,"view":{"stroke":null},"layer":[{"data":{"name":"bins1"},"mark":"rect","encoding":{"x":{"field":"lo","type":"quantitative","scale":{"type":"log","domain":[0.005815,5.159],"nice":false},"axis":{"values":[0.01,0.1,0.5,1,2,3],"title":"ug m-3","labelExpr":"''+datum.value","labelOverlap":false,"labelFlush":false,"titlePadding":2}},"x2":{"field":"hi"},"color":{"field":"c","type":"nominal","legend":null,"scale":{"domain":["a","b","c","d","e","f","g","h","i","j"],"range":["#393b79","#6b6ecf","#637939","#b5cf6b","#8c6d31","#e7ba52","#843c39","#d6616b","#7b4173","#ce6dbd"]}}}},{"data":{"name":"tip1"},"mark":{"type":"area","color":"#ce6dbd","interpolate":"linear"},"encoding":{"x":{"field":"x","type":"quantitative"},"y":{"field":"y","type":"quantitative","scale":{"domain":[0,1]},"axis":null},"y2":{"field":"y2"}}},{"data":{"name":"edge1"},"mark":{"type":"line","color":"#888","strokeWidth":1},"encoding":{"x":{"field":"x","type":"quantitative"},"y":{"field":"y","type":"quantitative","axis":null},"order":{"field":"i"}}}]},
{"width":313,"height":33,"view":{"stroke":null},"layer":[{"data":{"name":"bins1"},"mark":"rect","encoding":{"x":{"field":"lo","type":"quantitative","scale":{"type":"log","domain":[0.005815,5.159],"nice":false},"axis":{"values":[0.01,0.1,0.5,1,2,3],"title":"ug m-3","labelExpr":"''+datum.value","labelOverlap":false,"labelFlush":false,"titlePadding":2}},"x2":{"field":"hi"},"color":{"field":"c","type":"nominal","legend":null,"scale":{"domain":["a","b","c","d","e","f","g","h","i","j"],"range":["#393b79","#6b6ecf","#637939","#b5cf6b","#8c6d31","#e7ba52","#843c39","#d6616b","#7b4173","#ce6dbd"]}}}},{"data":{"name":"tip1"},"mark":{"type":"area","color":"#ce6dbd","interpolate":"linear"},"encoding":{"x":{"field":"x","type":"quantitative"},"y":{"field":"y","type":"quantitative","scale":{"domain":[0,1]},"axis":null},"y2":{"field":"y2"}}},{"data":{"name":"edge1"},"mark":{"type":"line","color":"#888","strokeWidth":1},"encoding":{"x":{"field":"x","type":"quantitative"},"y":{"field":"y","type":"quantitative","axis":null},"order":{"field":"i"}}}]},
{"width":313,"height":33,"view":{"stroke":null},"layer":[{"data":{"name":"bins3"},"mark":"rect","encoding":{"x":{"field":"lo","type":"quantitative","scale":{"type":"log","domain":[0.006906,0.7134],"nice":false},"axis":{"values":[0.01,0.02,0.1,0.25,0.5],"title":"ug m-3","labelExpr":"''+datum.value","labelOverlap":false,"labelFlush":false,"titlePadding":2}},"x2":{"field":"hi"},"color":{"field":"c","type":"nominal","legend":null,"scale":{"domain":["a","b","c","d","e","f","g","h","i","j"],"range":["#393b79","#6b6ecf","#637939","#b5cf6b","#8c6d31","#e7ba52","#843c39","#d6616b","#7b4173","#ce6dbd"]}}}},{"data":{"name":"tip3"},"mark":{"type":"area","color":"#ce6dbd","interpolate":"linear"},"encoding":{"x":{"field":"x","type":"quantitative"},"y":{"field":"y","type":"quantitative","scale":{"domain":[0,1]},"axis":null},"y2":{"field":"y2"}}},{"data":{"name":"edge3"},"mark":{"type":"line","color":"#888","strokeWidth":1},"encoding":{"x":{"field":"x","type":"quantitative"},"y":{"field":"y","type":"quantitative","axis":null},"order":{"field":"i"}}}]}
],"spacing":0,"bounds":"flush"}]}
